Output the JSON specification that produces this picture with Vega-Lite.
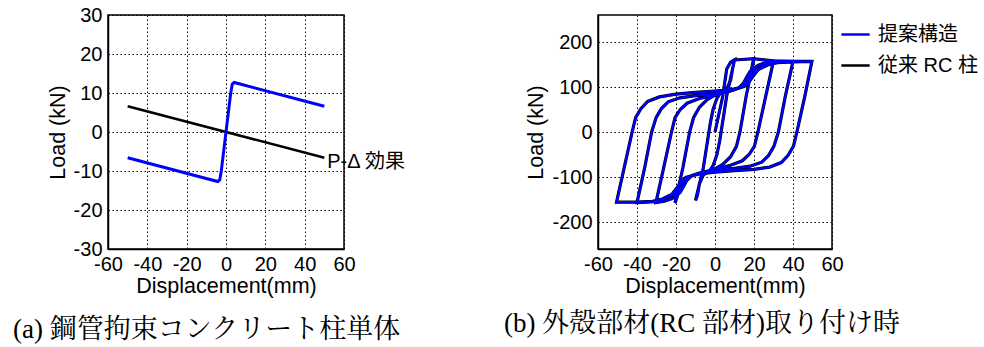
{
  "$schema": "https://vega.github.io/schema/vega-lite/v6.json",
  "background": "white",
  "padding": {"left": 12, "top": 4, "right": 5, "bottom": 5},
  "bounds": "flush",
  "spacing": 254,
  "config": {
    "view": {"stroke": "black", "strokeWidth": 1.5},
    "axis": {
      "labelFont": "Liberation Sans", "labelFontSize": 20, "labelColor": "black",
      "titleFont": "Liberation Sans", "titleFontSize": 21.5, "titleFontWeight": "normal", "titleColor": "black",
      "domainColor": "black", "domainWidth": 1.5, "ticks": false, "tickSize": 0,
      "gridColor": "black", "gridDash": [1.5, 2.5], "gridOpacity": 1, "gridWidth": 1,
      "labelPadding": 6, "titlePadding": 4, "labelFlush": false, "labelOverlap": false,
      "labelExpr": "datum.value < 0 ? '-' + abs(datum.value) : '' + datum.value"
    },
    "axisX": {"labelPadding": 5, "titlePadding": 1},
    "legend": {
      "orient": "none", "legendX": 723, "legendY": -5, "padding": 9,
      "labelFont": "Liberation Sans, Noto Sans CJK JP", "labelFontSize": 20, "labelColor": "black",
      "symbolType": "stroke", "symbolSize": 800, "symbolStrokeWidth": 2.5,
      "rowPadding": 5, "labelOffset": 7
    },
    "title": {
      "font": "Liberation Serif, Noto Serif CJK JP, Noto Sans CJK JP", "fontSize": 27, "fontWeight": "normal", "color": "black"
    }
  },
  "hconcat": [
    {
      "width": 236,
      "height": 234,
      "title": {"text": "(a) 鋼管拘束コンクリート柱単体", "orient": "bottom", "anchor": "start", "frame": "group", "dx": -95, "offset": 20},
      "encoding": {
        "x": {"field": "x", "type": "quantitative", "scale": {"domain": [-60, 60], "nice": false}, "axis": {"title": "Displacement(mm)", "values": [-60, -40, -20, 0, 20, 40, 60], "labelOverlap": false}},
        "y": {"field": "y", "type": "quantitative", "scale": {"domain": [-30, 30], "nice": false}, "axis": {"title": "Load (kN)", "values": [-30, -20, -10, 0, 10, 20, 30], "labelOverlap": false}}
      },
      "layer": [
        {
          "data": {"values": [
            {"i": 0, "x": -50, "y": 6.6},
            {"i": 1, "x": 50, "y": -6.6}
          ]},
          "mark": {"type": "line", "color": "black", "strokeWidth": 2.5},
          "encoding": {"order": {"field": "i"}}
        },
        {
          "data": {"values": [
            {"i": 0, "x": -50, "y": -6.6},
            {"i": 1, "x": -4.2, "y": -12.7},
            {"i": 2, "x": -3.2, "y": -12.3},
            {"i": 3, "x": -2.4, "y": -10},
            {"i": 4, "x": 2.4, "y": 10},
            {"i": 5, "x": 3.2, "y": 12.3},
            {"i": 6, "x": 4.2, "y": 12.7},
            {"i": 7, "x": 50, "y": 6.6}
          ]},
          "mark": {"type": "line", "color": "#0000ff", "strokeWidth": 3},
          "encoding": {"order": {"field": "i"}}
        },
        {
          "data": {"values": [{"x": 51.5, "y": -7.6, "t": "P-Δ 効果"}]},
          "mark": {"type": "text", "align": "left", "baseline": "middle", "font": "Liberation Sans, Noto Sans CJK JP", "fontSize": 20, "color": "black"},
          "encoding": {"text": {"field": "t"}}
        }
      ]
    },
    {
      "width": 234,
      "height": 234,
      "title": {"text": "(b) 外殻部材(RC 部材)取り付け時", "orient": "bottom", "anchor": "start", "frame": "group", "dx": -94, "offset": 14},
      "data": {"values": [
        {"i": 0, "x": 0, "y": 0}, {"i": 1, "x": 2, "y": 40}, {"i": 2, "x": 4, "y": 80}, {"i": 3, "x": 6, "y": 140}, {"i": 4, "x": 8, "y": 155}, {"i": 5, "x": 10, "y": 160},
        {"i": 6, "x": 6, "y": 80}, {"i": 7, "x": 2.4, "y": -20}, {"i": 8, "x": 1, "y": -50}, {"i": 9, "x": -1, "y": -75}, {"i": 10, "x": -3, "y": -88}, {"i": 11, "x": -6, "y": -95}, {"i": 12, "x": -8, "y": -115}, {"i": 13, "x": -9, "y": -140}, {"i": 14, "x": -10, "y": -152},
        {"i": 15, "x": -6, "y": -80}, {"i": 16, "x": -2.4, "y": 20}, {"i": 17, "x": -1, "y": 50}, {"i": 18, "x": 1, "y": 75}, {"i": 19, "x": 3, "y": 88}, {"i": 20, "x": 6, "y": 95}, {"i": 21, "x": 8, "y": 115}, {"i": 22, "x": 9, "y": 140}, {"i": 23, "x": 10, "y": 160},
        {"i": 24, "x": 20, "y": 163},
        {"i": 25, "x": 16, "y": 80}, {"i": 26, "x": 12.8, "y": 0}, {"i": 27, "x": 11, "y": -32}, {"i": 28, "x": 8, "y": -55}, {"i": 29, "x": 4, "y": -72}, {"i": 30, "x": 0, "y": -82}, {"i": 31, "x": -6, "y": -90}, {"i": 32, "x": -12, "y": -97}, {"i": 33, "x": -16, "y": -108}, {"i": 34, "x": -18, "y": -125}, {"i": 35, "x": -19.5, "y": -145}, {"i": 36, "x": -20.5, "y": -158},
        {"i": 37, "x": -16.5, "y": -80}, {"i": 38, "x": -13, "y": 0}, {"i": 39, "x": -11, "y": 32}, {"i": 40, "x": -8, "y": 55}, {"i": 41, "x": -4, "y": 72}, {"i": 42, "x": 0, "y": 82}, {"i": 43, "x": 6, "y": 90}, {"i": 44, "x": 12, "y": 97}, {"i": 45, "x": 16, "y": 108}, {"i": 46, "x": 18, "y": 125}, {"i": 47, "x": 19, "y": 145}, {"i": 48, "x": 19.8, "y": 163},
        {"i": 49, "x": 30, "y": 158},
        {"i": 50, "x": 26, "y": 79}, {"i": 51, "x": 22, "y": 0}, {"i": 52, "x": 20.2, "y": -32}, {"i": 53, "x": 17.5, "y": -50}, {"i": 54, "x": 14, "y": -64}, {"i": 55, "x": 8, "y": -74}, {"i": 56, "x": 0, "y": -83}, {"i": 57, "x": -8, "y": -91}, {"i": 58, "x": -12, "y": -97}, {"i": 59, "x": -14.5, "y": -108}, {"i": 60, "x": -16, "y": -120}, {"i": 61, "x": -18, "y": -135}, {"i": 62, "x": -22, "y": -148}, {"i": 63, "x": -26, "y": -154}, {"i": 64, "x": -30.3, "y": -157},
        {"i": 65, "x": -26.3, "y": -79}, {"i": 66, "x": -22.3, "y": 0}, {"i": 67, "x": -20.5, "y": 32}, {"i": 68, "x": -17.8, "y": 50}, {"i": 69, "x": -14.3, "y": 64}, {"i": 70, "x": -8.3, "y": 74}, {"i": 71, "x": 0, "y": 83}, {"i": 72, "x": 8, "y": 91}, {"i": 73, "x": 12, "y": 97}, {"i": 74, "x": 14.5, "y": 108}, {"i": 75, "x": 16, "y": 120}, {"i": 76, "x": 18, "y": 135}, {"i": 77, "x": 22, "y": 148}, {"i": 78, "x": 26, "y": 154}, {"i": 79, "x": 29.8, "y": 158},
        {"i": 80, "x": 40, "y": 157},
        {"i": 81, "x": 36, "y": 78}, {"i": 82, "x": 32.5, "y": 0}, {"i": 83, "x": 30.2, "y": -32}, {"i": 84, "x": 27.5, "y": -52}, {"i": 85, "x": 24, "y": -67}, {"i": 86, "x": 18, "y": -76}, {"i": 87, "x": 10, "y": -81}, {"i": 88, "x": 0, "y": -85}, {"i": 89, "x": -8, "y": -92}, {"i": 90, "x": -14, "y": -100}, {"i": 91, "x": -16.4, "y": -111}, {"i": 92, "x": -18.1, "y": -122}, {"i": 93, "x": -20.7, "y": -137}, {"i": 94, "x": -25.8, "y": -148}, {"i": 95, "x": -30, "y": -154}, {"i": 96, "x": -35, "y": -156}, {"i": 97, "x": -40, "y": -157},
        {"i": 98, "x": -36, "y": -78}, {"i": 99, "x": -32.5, "y": 0}, {"i": 100, "x": -30.2, "y": 32}, {"i": 101, "x": -27.5, "y": 52}, {"i": 102, "x": -24, "y": 67}, {"i": 103, "x": -18, "y": 76}, {"i": 104, "x": -10, "y": 81}, {"i": 105, "x": 0, "y": 85}, {"i": 106, "x": 8, "y": 92}, {"i": 107, "x": 14, "y": 100}, {"i": 108, "x": 16.4, "y": 111}, {"i": 109, "x": 18.1, "y": 122}, {"i": 110, "x": 20.7, "y": 137}, {"i": 111, "x": 25.8, "y": 148}, {"i": 112, "x": 30, "y": 154}, {"i": 113, "x": 35, "y": 156}, {"i": 114, "x": 39.6, "y": 157},
        {"i": 115, "x": 49.7, "y": 157},
        {"i": 116, "x": 46, "y": 78}, {"i": 117, "x": 42, "y": 0}, {"i": 118, "x": 40.2, "y": -32}, {"i": 119, "x": 37.5, "y": -52}, {"i": 120, "x": 34, "y": -68}, {"i": 121, "x": 28, "y": -78}, {"i": 122, "x": 20, "y": -83}, {"i": 123, "x": 10, "y": -86}, {"i": 124, "x": 0, "y": -89}, {"i": 125, "x": -8, "y": -93}, {"i": 126, "x": -15, "y": -101}, {"i": 127, "x": -17.5, "y": -112}, {"i": 128, "x": -19.5, "y": -124}, {"i": 129, "x": -22, "y": -138}, {"i": 130, "x": -27, "y": -149}, {"i": 131, "x": -32, "y": -154}, {"i": 132, "x": -40, "y": -156}, {"i": 133, "x": -50.5, "y": -156},
        {"i": 134, "x": -46.5, "y": -78}, {"i": 135, "x": -42.5, "y": 0}, {"i": 136, "x": -40.7, "y": 32}, {"i": 137, "x": -38, "y": 52}, {"i": 138, "x": -34.5, "y": 68}, {"i": 139, "x": -28.5, "y": 78}, {"i": 140, "x": -20, "y": 84}, {"i": 141, "x": -10, "y": 88}, {"i": 142, "x": 0, "y": 91}, {"i": 143, "x": 8, "y": 94}, {"i": 144, "x": 15, "y": 101}, {"i": 145, "x": 17.5, "y": 112}, {"i": 146, "x": 19.5, "y": 124}, {"i": 147, "x": 22, "y": 138}, {"i": 148, "x": 27, "y": 149}, {"i": 149, "x": 32, "y": 154}, {"i": 150, "x": 40, "y": 156}, {"i": 151, "x": 49.7, "y": 157}
      ]},
      "encoding": {
        "x": {"field": "x", "type": "quantitative", "scale": {"domain": [-60, 60], "nice": false}, "axis": {"title": "Displacement(mm)", "values": [-60, -40, -20, 0, 20, 40, 60], "labelOverlap": false}},
        "y": {"field": "y", "type": "quantitative", "scale": {"domain": [-260, 260], "nice": false}, "axis": {"title": "Load (kN)", "values": [-200, -100, 0, 100, 200], "labelOverlap": false}},
        "order": {"field": "i"}
      },
      "layer": [
        {
          "mark": {"type": "line", "strokeWidth": 3.2},
          "encoding": {"color": {"datum": "従来 RC 柱", "type": "nominal", "scale": {"domain": ["提案構造", "従来 RC 柱"], "range": ["#0000ff", "#000000"]}, "legend": {"title": null}}}
        },
        {
          "mark": {"type": "line", "strokeWidth": 2.2},
          "encoding": {"color": {"datum": "提案構造", "type": "nominal"}}
        }
      ]
    }
  ]
}
